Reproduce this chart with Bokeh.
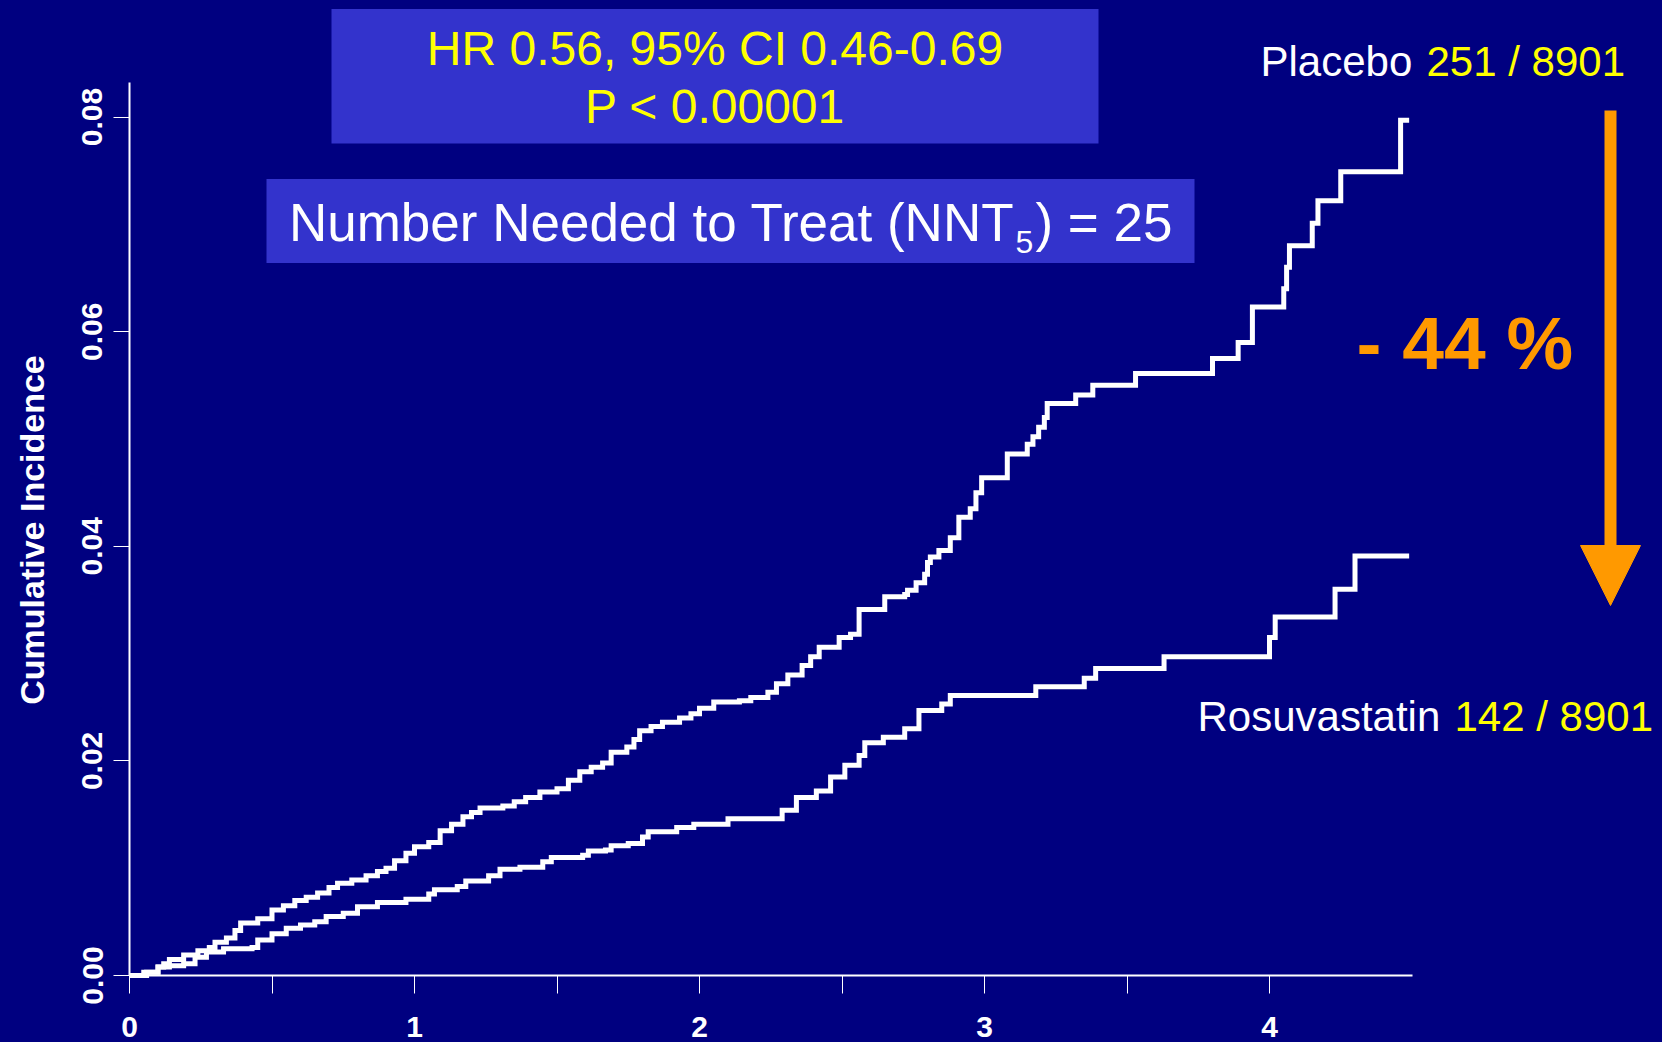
import math
from bokeh.plotting import figure
from bokeh.models import Range1d, FixedTicker, Label, BoxAnnotation, Arrow, NormalHead
from bokeh.embed import file_html
from bokeh.resources import INLINE

# ---------------- data ----------------
placebo_years = [0.00, 0.05, 0.10, 0.12, 0.14, 0.19, 0.24, 0.28, 0.30, 0.34, 0.37, 0.39, 0.45,
                 0.50, 0.54, 0.58, 0.62, 0.66, 0.70, 0.73, 0.78, 0.83, 0.87, 0.90, 0.93, 0.97,
                 1.00, 1.05, 1.09, 1.13, 1.17, 1.20, 1.23, 1.31, 1.35, 1.39, 1.44, 1.50, 1.54,
                 1.58, 1.62, 1.66, 1.69, 1.745, 1.77, 1.79, 1.83, 1.87, 1.93, 1.97, 2.00, 2.05,
                 2.14, 2.18, 2.24, 2.27, 2.31, 2.36, 2.39, 2.42, 2.49, 2.53, 2.56, 2.65, 2.72,
                 2.73, 2.76, 2.79, 2.80, 2.81, 2.84, 2.88, 2.91, 2.95, 2.97, 2.99, 3.08, 3.15,
                 3.17, 3.19, 3.21, 3.22, 3.32, 3.38, 3.53, 3.80, 3.89, 3.94, 4.05, 4.06, 4.07,
                 4.15, 4.17, 4.25, 4.46, 4.49]
placebo_incidence = [0.0000, 0.0003, 0.0008, 0.0011, 0.0015, 0.0019, 0.0023, 0.0026, 0.0031,
                     0.0035, 0.0042, 0.0049, 0.0053, 0.0061, 0.0065, 0.0070, 0.0073, 0.0077,
                     0.0082, 0.0086, 0.0089, 0.0093, 0.0097, 0.0100, 0.0107, 0.0114, 0.0120,
                     0.0124, 0.0135, 0.0141, 0.0148, 0.0152, 0.0156, 0.0158, 0.0162, 0.0166,
                     0.0171, 0.0174, 0.0182, 0.0190, 0.0194, 0.0198, 0.0208, 0.0213, 0.0220,
                     0.0228, 0.0232, 0.0236, 0.0240, 0.0244, 0.0249, 0.0255, 0.0256, 0.0259,
                     0.0264, 0.0272, 0.0280, 0.0289, 0.0297, 0.0306, 0.0315, 0.0318, 0.0341,
                     0.0353, 0.0355, 0.0359, 0.0366, 0.0374, 0.0385, 0.0390, 0.0396, 0.0408,
                     0.0427, 0.0435, 0.0450, 0.0464, 0.0486, 0.0495, 0.0502, 0.0511, 0.0520,
                     0.0533, 0.0541, 0.0550, 0.0561, 0.0575, 0.0590, 0.0623, 0.0640, 0.0660,
                     0.0680, 0.0701, 0.0722, 0.0749, 0.0797, 0.0797]

rosuva_years = [0.00, 0.06, 0.10, 0.14, 0.19, 0.23, 0.27, 0.33, 0.43, 0.45, 0.50, 0.55, 0.60,
                0.65, 0.69, 0.75, 0.80, 0.87, 0.97, 1.05, 1.07, 1.15, 1.18, 1.26, 1.30, 1.37,
                1.45, 1.48, 1.59, 1.61, 1.67, 1.69, 1.75, 1.80, 1.82, 1.92, 1.98, 2.10, 2.29,
                2.34, 2.41, 2.46, 2.51, 2.56, 2.58, 2.645, 2.72, 2.77, 2.85, 2.88, 3.18, 3.35,
                3.39, 3.63, 4.00, 4.02, 4.23, 4.30, 4.49]
rosuva_incidence = [0.0000, 0.0003, 0.0008, 0.0009, 0.0011, 0.0017, 0.0022, 0.0025, 0.0026,
                    0.0033, 0.0039, 0.0044, 0.0047, 0.0050, 0.0055, 0.0058, 0.0064, 0.0068,
                    0.0071, 0.0076, 0.0080, 0.0083, 0.0088, 0.0093, 0.0099, 0.0101, 0.0106,
                    0.0110, 0.0112, 0.0116, 0.0117, 0.0121, 0.0123, 0.0129, 0.0134, 0.0138,
                    0.0141, 0.0146, 0.0154, 0.0166, 0.0172, 0.0185, 0.0196, 0.0205, 0.0217,
                    0.0222, 0.0230, 0.0247, 0.0253, 0.0261, 0.0269, 0.0277, 0.0286, 0.0297,
                    0.0315, 0.0334, 0.0360, 0.0391, 0.0391]

x_ticks = [0, 1, 2, 3, 4]
x_minor_ticks = [0.5, 1.5, 2.5, 3.5]
y_ticks = [0.00, 0.02, 0.04, 0.06, 0.08]
y_tick_labels = ["0.00", "0.02", "0.04", "0.06", "0.08"]

y_axis_title = "Cumulative Incidence"
hr_text = "HR 0.56, 95% CI 0.46-0.69"
p_text = "P < 0.00001"
nnt_main, nnt_sub, nnt_tail = "Number Needed to Treat (NNT", "5", ") = 25"
placebo_name, placebo_count = "Placebo", "251 / 8901"
rosuva_name, rosuva_count = "Rosuvastatin", "142 / 8901"
reduction_text = "- 44 %"

# ---------------- styles ----------------
NAVY = "#000080"
BOX = "#3333CC"
YELLOW = "#FFFF00"
ORANGE = "#FF9900"
FONT = "'Liberation Sans', Arial, 'DejaVu Sans', sans-serif"

W, H = 1662, 1042
ORIGIN_X, ORIGIN_Y = 129, 975      # page pixel of (0, 0)
PX_PER_YEAR = 285.0
PX_PER_UNIT = 10730.0


def dx(page_x):
    return (page_x - ORIGIN_X) / PX_PER_YEAR


def dy(page_y):
    return (ORIGIN_Y - page_y) / PX_PER_UNIT


p = figure(width=W, height=H, output_backend="svg", toolbar_location=None,
           x_range=Range1d(dx(0), dx(W)), y_range=Range1d(dy(H), dy(0)),
           min_border_left=0, min_border_right=0, min_border_top=0,
           min_border_bottom=0,
           background_fill_color=NAVY, border_fill_color=NAVY,
           outline_line_color=None)
p.grid.visible = False

# x axis (drawn at y = 0)
xa = p.xaxis[0]
xa.fixed_location = 0
xa.ticker = FixedTicker(ticks=x_ticks, minor_ticks=x_minor_ticks)
xa.bounds = (0, 4.5)
xa.axis_line_color = "white"
xa.axis_line_width = 2
xa.major_tick_line_color = "white"
xa.minor_tick_line_color = "white"
xa.major_tick_line_width = 1
xa.minor_tick_line_width = 1
xa.major_tick_in = 0
xa.major_tick_out = 18
xa.minor_tick_in = 0
xa.minor_tick_out = 18
xa.major_label_text_color = "white"
xa.major_label_text_font = FONT
xa.major_label_text_font_style = "bold"
xa.major_label_text_font_size = "30px"
xa.major_label_standoff = 23

# y axis (drawn at x = 0)
ya = p.yaxis[0]
ya.fixed_location = 0
ya.ticker = FixedTicker(ticks=y_ticks, minor_ticks=[])
ya.major_label_overrides = {t: l for t, l in zip(y_ticks, y_tick_labels)}
ya.bounds = (0, 0.0832)
ya.axis_line_color = "white"
ya.axis_line_width = 2
ya.major_tick_line_color = "white"
ya.major_tick_line_width = 1
ya.major_tick_in = 0
ya.major_tick_out = 16
ya.minor_tick_line_color = None
ya.major_label_orientation = "vertical"
ya.major_label_text_color = "white"
ya.major_label_text_font = FONT
ya.major_label_text_font_style = "bold"
ya.major_label_text_font_size = "30px"
ya.major_label_standoff = 11

# y axis title
p.add_layout(Label(x=dx(31), y=dy(529.5), text=y_axis_title, angle=math.pi / 2,
                   text_align="center", text_baseline="middle", text_font=FONT,
                   text_font_size="34px", text_font_style="bold", text_color="white"))

# curves
p.step(placebo_years, placebo_incidence, mode="after", line_color="white",
       line_width=5, line_join="miter")
p.step(rosuva_years, rosuva_incidence, mode="after", line_color="white",
       line_width=5, line_join="miter")

# boxes
p.add_layout(BoxAnnotation(left=dx(331), right=dx(1098), top=dy(8.5), bottom=dy(143),
                           fill_color=BOX, fill_alpha=1, line_color=None))
p.add_layout(BoxAnnotation(left=dx(266), right=dx(1194), top=dy(178.5), bottom=dy(262.5),
                           fill_color=BOX, fill_alpha=1, line_color=None))


def lab(text, x, y, size, color, align="left", style="normal"):
    p.add_layout(Label(x=dx(x), y=dy(y), text=text, text_align=align,
                       text_baseline="middle", text_font=FONT,
                       text_font_size=size, text_color=color, text_font_style=style))


lab(hr_text, 714.5, 48.2, "48px", YELLOW, align="center")
lab(p_text, 714.5, 105.8, "48px", YELLOW, align="center")
lab(nnt_main, 1014, 221.7, "53px", "white", align="right")
lab(nnt_sub, 1015, 241.5, "32px", "white")
lab(nnt_tail, 1035, 221.7, "53px", "white")
lab(placebo_name, 1260, 61.3, "42px", "white")
lab(placebo_count, 1426, 61.3, "42px", YELLOW)
lab(rosuva_name, 1197, 715.8, "42px", "white")
lab(rosuva_count, 1454, 715.8, "42px", YELLOW)
lab(reduction_text, 1356, 342.2, "75px", ORANGE, style="bold")

# arrow
p.add_layout(Arrow(x_start=dx(1610), y_start=dy(110), x_end=dx(1610), y_end=dy(605),
                   line_color=ORANGE, line_width=12,
                   end=NormalHead(size=60, fill_color=ORANGE, line_color=ORANGE,
                                  line_width=1)))

html = file_html(p, INLINE, title="Cumulative Incidence")
html = html.replace("<head>", "<head><style>html,body{background:#000080;}</style>", 1)
open("out.html", "w").write(html)
